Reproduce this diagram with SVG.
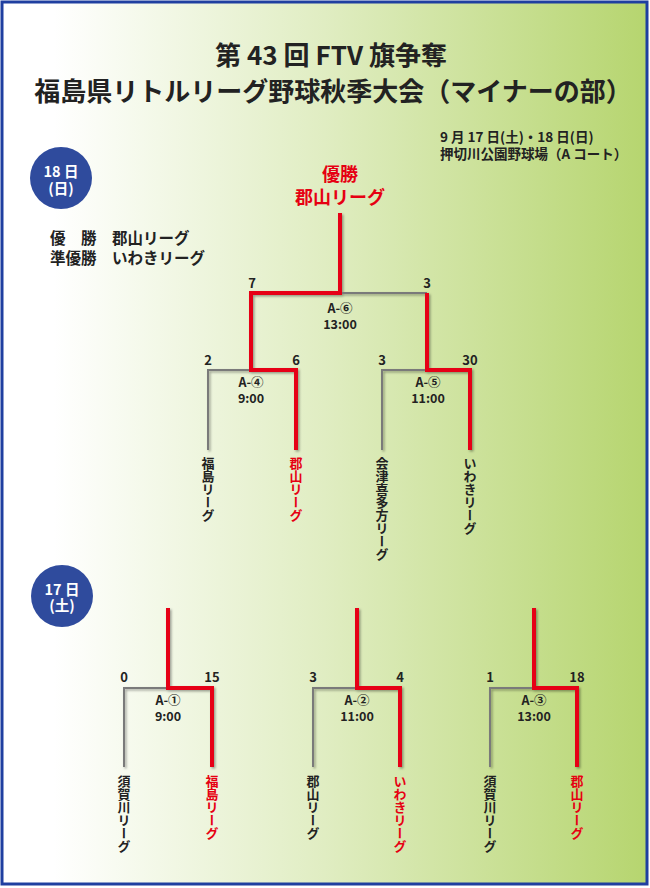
<svg xmlns="http://www.w3.org/2000/svg" width="650" height="888" viewBox="0 0 650 888">
<defs>
<linearGradient id="bg" x1="0" y1="0" x2="1" y2="0">
<stop offset="0.08" stop-color="#ffffff"/>
<stop offset="0.5" stop-color="#e0edc2"/>
<stop offset="1" stop-color="#b6d56f"/>
</linearGradient>
<filter id="sh" x="-20%" y="-20%" width="140%" height="140%">
<feDropShadow dx="1.5" dy="1.5" stdDeviation="1" flood-color="#000" flood-opacity="0.35"/>
</filter>
</defs>
<style>
text{font-family:"Noto Sans CJK JP","Noto Sans",sans-serif;font-weight:bold;fill:#222}
.title{font-size:26px;text-anchor:middle}
.info{font-size:13.5px}
.red{fill:#e60012}
.circ{fill:#2f4b9d}
.ctext{fill:#fff;font-size:14.5px;text-anchor:middle}
.champ{font-size:18px;text-anchor:middle}
.res{font-size:15.5px}
.score{font-size:13px;text-anchor:middle}
.match{font-size:12.5px;text-anchor:middle}
.vname{font-size:13px;writing-mode:vertical-rl;text-orientation:upright}
.w{fill:none;stroke:#e60012;stroke-width:4;stroke-linejoin:miter}
.l{fill:none;stroke:#7a7a7a;stroke-width:2}
</style>
<rect x="2" y="2" width="645" height="882" fill="url(#bg)" stroke="#1f3fa0" stroke-width="3"/>
<g id="title">
<text class="title" x="331" y="65">第 43 回 FTV 旗争奪</text>
<text class="title" x="333" y="101">福島県リトルリーグ野球秋季大会（マイナーの部）</text>
</g>
<g id="info">
<text class="info" x="440" y="142">9 月 17 日(土)・18 日(日)</text>
<text class="info" x="440" y="159">押切川公園野球場（A コート）</text>
</g>
<g id="day18">
<circle class="circ" cx="61" cy="178" r="31"/>
<text class="ctext" x="61" y="177">18 日</text>
<text class="ctext" x="61" y="194">(日)</text>
</g>
<g id="results">
<text class="res" x="50" y="244">優　勝　郡山リーグ</text>
<text class="res" x="50" y="264">準優勝　いわきリーグ</text>
</g>
<g id="champion">
<text class="champ red" x="340" y="181">優勝</text>
<text class="champ red" x="340" y="204">郡山リーグ</text>
</g>
<g id="connectors" filter="url(#sh)">
<path class="l" d="M340,293 H427"/>
<path class="l" d="M208,450 V370 H251"/>
<path class="l" d="M382,450 V370 H427"/>
<path class="w" d="M340,213 V293 H251 V370 H296 V450"/>
<path class="w" d="M427,293 V370 H470 V450"/>
<path class="l" d="M124,767 V688 H168"/>
<path class="w" d="M168,608 V688 H212 V767"/>
<path class="l" d="M313,767 V688 H357"/>
<path class="w" d="M357,608 V688 H400 V767"/>
<path class="l" d="M490,767 V688 H534"/>
<path class="w" d="M534,608 V688 H577 V767"/>
</g>
<g id="match-A6">
<text class="score" x="252" y="288">7</text>
<text class="score" x="427" y="288">3</text>
<text class="match" x="340" y="313">A-⑥</text>
<text class="match" x="340" y="329">13:00</text>
</g>
<g id="match-A4">
<text class="score" x="208" y="365">2</text>
<text class="score" x="296" y="365">6</text>
<text class="match" x="251" y="387">A-④</text>
<text class="match" x="251" y="403">9:00</text>
</g>
<g id="match-A5">
<text class="score" x="382" y="365">3</text>
<text class="score" x="470" y="365">30</text>
<text class="match" x="428" y="387">A-⑤</text>
<text class="match" x="428" y="403">11:00</text>
</g>
<g id="teams-18">
<text class="vname" x="208" y="457">福島リーグ</text>
<text class="vname red" x="296" y="457">郡山リーグ</text>
<text class="vname" x="382" y="457">会津喜多方リーグ</text>
<text class="vname" x="470" y="457">いわきリーグ</text>
</g>
<g id="day17">
<circle class="circ" cx="62" cy="596" r="31"/>
<text class="ctext" x="62" y="595">17 日</text>
<text class="ctext" x="62" y="611">(土)</text>
</g>
<g id="match-A1">
<text class="score" x="124" y="682">0</text>
<text class="score" x="212" y="682">15</text>
<text class="match" x="168" y="705">A-①</text>
<text class="match" x="168" y="721">9:00</text>
<text class="vname" x="124" y="775">須賀川リーグ</text>
<text class="vname red" x="212" y="775">福島リーグ</text>
</g>
<g id="match-A2">
<text class="score" x="313" y="682">3</text>
<text class="score" x="400" y="682">4</text>
<text class="match" x="357" y="705">A-②</text>
<text class="match" x="357" y="721">11:00</text>
<text class="vname" x="313" y="775">郡山リーグ</text>
<text class="vname red" x="400" y="775">いわきリーグ</text>
</g>
<g id="match-A3">
<text class="score" x="490" y="682">1</text>
<text class="score" x="577" y="682">18</text>
<text class="match" x="534" y="705">A-③</text>
<text class="match" x="534" y="721">13:00</text>
<text class="vname" x="490" y="775">須賀川リーグ</text>
<text class="vname red" x="577" y="775">郡山リーグ</text>
</g>
</svg>
